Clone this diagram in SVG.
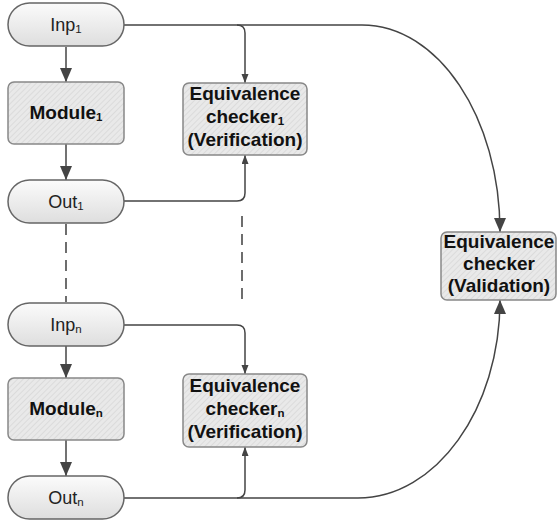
<svg xmlns="http://www.w3.org/2000/svg" width="557" height="523" viewBox="0 0 557 523">
<defs>
<linearGradient id="pillGrad" x1="0" y1="0" x2="0" y2="1">
<stop offset="0" stop-color="#fbfbfb"/>
<stop offset="1" stop-color="#dedede"/>
</linearGradient>
<pattern id="hatch" width="4" height="4" patternUnits="userSpaceOnUse" patternTransform="rotate(45)">
<rect width="4" height="4" fill="#e9e9e9"/>
<line x1="0" y1="0" x2="0" y2="4" stroke="#d2d2d2" stroke-width="1.2"/>
</pattern>
<marker id="big" markerUnits="userSpaceOnUse" markerWidth="14" markerHeight="16" viewBox="0 0 14 16" refX="14" refY="6" orient="auto">
<path d="M0,0 L14,6 L0,12 Z" fill="#444"/>
</marker>
<marker id="small" markerUnits="userSpaceOnUse" markerWidth="9" markerHeight="8" viewBox="0 0 9 8" refX="9" refY="3.5" orient="auto">
<path d="M0,0 L9,3.5 L0,7 Z" fill="#444"/>
</marker>
</defs>
<style>
.pill{fill:url(#pillGrad);stroke:#666;stroke-width:1.5}
.box{fill:url(#hatch);stroke:#888;stroke-width:1.5}
.t{font-family:"Liberation Sans",Arial,sans-serif;font-size:18px;fill:#222;text-anchor:middle}
.b{font-family:"Liberation Sans",Arial,sans-serif;font-size:19px;font-weight:bold;fill:#111;text-anchor:middle}
.sub{font-size:11.5px}
.c{fill:none;stroke:#444;stroke-width:1.5}
.d{fill:none;stroke:#555;stroke-width:1.7;stroke-dasharray:11 7}
</style>
<g id="connectors">
<path class="c" d="M66,47 V82" marker-end="url(#big)"/>
<path class="c" d="M66,144 V180" marker-end="url(#big)"/>
<path class="c" d="M66,346 V378" marker-end="url(#big)"/>
<path class="c" d="M66,440 V476" marker-end="url(#big)"/>
<path class="c" d="M124,25 H237 Q245,25 245,33 V83" marker-end="url(#small)"/>
<path class="c" d="M124,201 H237 Q245,201 245,193 V155" marker-end="url(#small)"/>
<path class="c" d="M124,325 H237 Q245,325 245,333 V374" marker-end="url(#small)"/>
<path class="c" d="M124,498 H237 Q245,498 245,490 V447" marker-end="url(#small)"/>
<path class="c" d="M237,25 H362 C438,25 500,117 500,232" marker-end="url(#big)"/>
<path class="c" d="M237,498 H358 C436,498 500,409 500,300" marker-end="url(#big)"/>
<path class="d" d="M66,224 V302"/>
<path class="d" d="M242,216 V305"/>
</g>
<g id="inp1">
<rect class="pill" x="8" y="3" width="116" height="43" rx="21.5"/>
<text class="t" x="66" y="31">Inp<tspan class="sub" dy="2">1</tspan></text>
</g>
<g id="module1">
<rect class="box" x="8" y="82" width="116" height="62" rx="6"/>
<text class="b" x="66" y="119">Module<tspan class="sub" dy="2">1</tspan></text>
</g>
<g id="out1">
<rect class="pill" x="8" y="180" width="116" height="43" rx="21.5"/>
<text class="t" x="66" y="208">Out<tspan class="sub" dy="2">1</tspan></text>
</g>
<g id="inpn">
<rect class="pill" x="8" y="303" width="116" height="43" rx="21.5"/>
<text class="t" x="66" y="331">Inp<tspan class="sub" dy="2">n</tspan></text>
</g>
<g id="modulen">
<rect class="box" x="8" y="378" width="116" height="62" rx="6"/>
<text class="b" x="66" y="415">Module<tspan class="sub" dy="2">n</tspan></text>
</g>
<g id="outn">
<rect class="pill" x="8" y="476" width="116" height="43" rx="21.5"/>
<text class="t" x="66" y="504">Out<tspan class="sub" dy="2">n</tspan></text>
</g>
<g id="checker1">
<rect class="box" x="183" y="83" width="124" height="72" rx="6"/>
<text class="b" x="245" y="100">Equivalence</text>
<text class="b" x="245" y="123">checker<tspan class="sub" dy="2">1</tspan></text>
<text class="b" x="245" y="146">(Verification)</text>
</g>
<g id="checkern">
<rect class="box" x="183" y="374" width="124" height="73" rx="6"/>
<text class="b" x="245" y="392">Equivalence</text>
<text class="b" x="245" y="415">checker<tspan class="sub" dy="2">n</tspan></text>
<text class="b" x="245" y="438">(Verification)</text>
</g>
<g id="validation">
<rect class="box" x="441" y="232" width="115" height="68" rx="6"/>
<text class="b" x="499" y="248">Equivalence</text>
<text class="b" x="499" y="270">checker</text>
<text class="b" x="499" y="292">(Validation)</text>
</g>
</svg>
